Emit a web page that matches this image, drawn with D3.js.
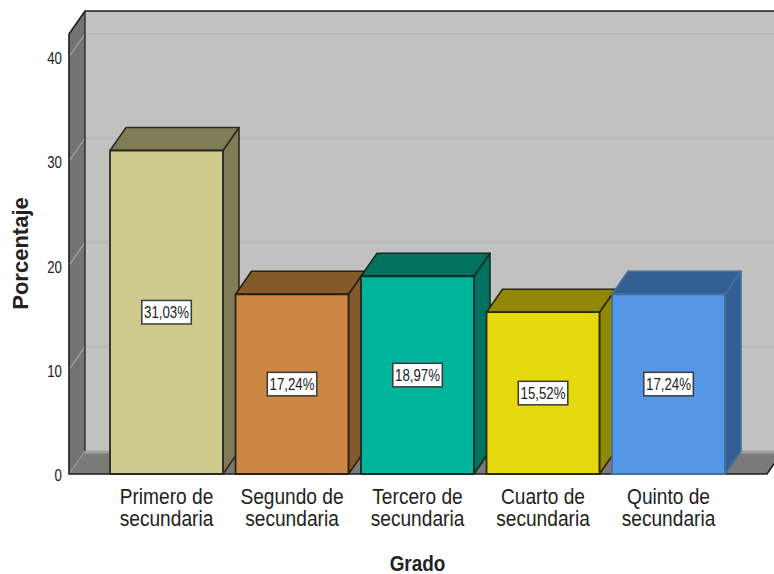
<!DOCTYPE html>
<html>
<head>
<meta charset="utf-8">
<script src="https://cdn.jsdelivr.net/npm/d3@7"></script>
<style>
  html, body { margin: 0; padding: 0; background: #fff; }
  svg { display: block; }
  text { font-family: "Liberation Sans", Arial, sans-serif; fill: #222; }
</style>
</head>
<body>
<div id="chart"></div>
<script>
var grades = ["Primero de secundaria", "Segundo de secundaria", "Tercero de secundaria", "Cuarto de secundaria", "Quinto de secundaria"];
var percents = [31.03, 17.24, 18.97, 15.52, 17.24];
var frontColors = ["#cfca8e", "#cc8743", "#00b49c", "#e6d90e", "#5596e6"];
var sideColors = ["#807c56", "#855a2b", "#00725f", "#918806", "#345f92"];
var strokeColors = ["#2b2b1e", "#2b2010", "#0f2b26", "#2b2800", "#42709f"];
var yTicks = [0, 10, 20, 30, 40];

var width = 774, height = 574;
var depth = {x: 16, y: -23};

// Set the ranges
var x = d3.scaleBand().domain(grades).range([103.75, 731.25]).paddingInner(0.1).paddingOuter(0.05);
var y = d3.scaleLinear().domain([0, 40]).range([474, 57]);

var yTop = 34, xLeft = 69, xRight = 767;

var svg = d3.select("#chart").append("svg")
  .attr("width", width)
  .attr("height", height);

function poly(points, fill, stroke, sw) {
  return svg.append("polygon")
    .attr("points", points.map(function(p) { return p.join(","); }).join(" "))
    .attr("fill", fill)
    .attr("stroke", stroke || "none")
    .attr("stroke-width", sw || 0)
    .attr("stroke-linejoin", "round");
}

// Back wall, side wall and floor
poly([[xLeft + depth.x, yTop + depth.y], [xRight + depth.x, yTop + depth.y],
      [xRight + depth.x, y(0) + depth.y], [xLeft + depth.x, y(0) + depth.y]], "#c1c1c1");
poly([[xLeft, yTop], [xLeft + depth.x, yTop + depth.y],
      [xLeft + depth.x, y(0) + depth.y], [xLeft, y(0)]], "#737373");
poly([[xLeft, y(0)], [xLeft + depth.x, y(0) + depth.y],
      [xRight + depth.x, y(0) + depth.y], [xRight, y(0)]], "#7a7a7a");

// Strip where the floor meets the back wall
svg.append("line")
  .attr("x1", xLeft + depth.x).attr("x2", width)
  .attr("y1", y(0) + depth.y + 1).attr("y2", y(0) + depth.y + 1)
  .attr("stroke", "#a2a2a2").attr("stroke-width", 3);

// Grid lines across both walls
yTicks.slice(1).forEach(function(t) {
  svg.append("line")
    .attr("x1", xLeft + depth.x).attr("x2", width)
    .attr("y1", y(t) + depth.y).attr("y2", y(t) + depth.y)
    .attr("stroke", "#b7b7b7").attr("stroke-width", 2);
  svg.append("line")
    .attr("x1", xLeft).attr("x2", xLeft + depth.x)
    .attr("y1", y(t)).attr("y2", y(t) + depth.y)
    .attr("stroke", "#a8a8a8").attr("stroke-width", 1.2);
});
svg.append("line")
  .attr("x1", xLeft).attr("x2", xLeft + depth.x)
  .attr("y1", y(0)).attr("y2", y(0) + depth.y)
  .attr("stroke", "#a0a0a0").attr("stroke-width", 1);

// Frame of the walls
svg.append("path")
  .attr("d", d3.line()([
    [width, yTop + depth.y], [xLeft + depth.x, yTop + depth.y], [xLeft, yTop],
    [xLeft, y(0)], [xRight, y(0)], [xRight + depth.x, y(0) + depth.y]]))
  .attr("fill", "none").attr("stroke", "#1c1c1c").attr("stroke-width", 1.6);
svg.append("line")
  .attr("x1", xLeft + depth.x).attr("x2", xLeft + depth.x)
  .attr("y1", yTop + depth.y).attr("y2", y(0) + depth.y)
  .attr("stroke", "#1c1c1c").attr("stroke-width", 1.2);

// Bars, left to right so each one overlaps the side of the previous
grades.forEach(function(g, i) {
  var x0 = x(g), x1 = x(g) + x.bandwidth(), top = y(percents[i]), base = y(0);
  var c = strokeColors[i];
  poly([[x1, top], [x1 + depth.x, top + depth.y], [x1 + depth.x, base + depth.y], [x1, base]], sideColors[i], c, 1.6);
  poly([[x0, top], [x0 + depth.x, top + depth.y], [x1 + depth.x, top + depth.y], [x1, top]], sideColors[i], c, 1.6);
  poly([[x0, top], [x1, top], [x1, base], [x0, base]], frontColors[i], c, 1.8);
});

// Value labels
var labelFormat = function(v) { return v.toFixed(2).replace(".", ",") + "%"; };
grades.forEach(function(g, i) {
  var cx = x(g) + x.bandwidth() / 2;
  var cy = (y(percents[i]) + y(0)) / 2;
  svg.append("rect")
    .attr("x", cx - 24.7).attr("y", cy - 11.8)
    .attr("width", 49.5).attr("height", 23.5)
    .attr("fill", "#fff").attr("stroke", "#3a3a3a").attr("stroke-width", 1.5);
  svg.append("text")
    .attr("x", cx).attr("y", cy + 6)
    .attr("text-anchor", "middle")
    .attr("font-size", 16)
    .attr("textLength", 45).attr("lengthAdjust", "spacingAndGlyphs")
    .text(labelFormat(percents[i]));
});

// Add the Y axis, labels are narrowed a little
var yAxis = d3.axisLeft(y).tickValues(yTicks).tickSize(0).tickPadding(0);
var yG = svg.append("g")
  .attr("transform", "translate(" + xLeft + ",0)")
  .call(yAxis);
yG.select(".domain").remove();
yG.selectAll("text")
  .attr("font-size", 16)
  .attr("x", 0)
  .attr("transform", "translate(-7,1.5) scale(0.83,1)")
  .style("font-family", "'Liberation Sans', Arial, sans-serif");

// Add the X axis, category names wrap on two lines
var xAxis = d3.axisBottom(x).tickSize(0).tickFormat("");
var xG = svg.append("g")
  .attr("transform", "translate(0," + y(0) + ")")
  .call(xAxis);
xG.select(".domain").remove();
xG.selectAll(".tick").each(function(d) {
  var words = d.split(" ");
  var t = d3.select(this).select("text")
    .attr("y", 0).attr("dy", null)
    .attr("font-size", 22)
    .attr("transform", "scale(0.87,1)")
    .style("font-family", "'Liberation Sans', Arial, sans-serif");
  t.append("tspan").attr("x", 0).attr("y", 30.3).text(words.slice(0, 2).join(" "));
  t.append("tspan").attr("x", 0).attr("y", 52.2).text(words.slice(2).join(" "));
});

// Axis titles
svg.append("text")
  .attr("transform", "translate(27.5,253.5) rotate(-90)")
  .attr("text-anchor", "middle")
  .attr("font-size", 22)
  .attr("font-weight", "bold")
  .text("Porcentaje");
svg.append("text")
  .attr("transform", "translate(417.5,571) scale(0.86,1)")
  .attr("text-anchor", "middle")
  .attr("font-size", 22)
  .attr("font-weight", "bold")
  .text("Grado");
</script>
</body>
</html>
